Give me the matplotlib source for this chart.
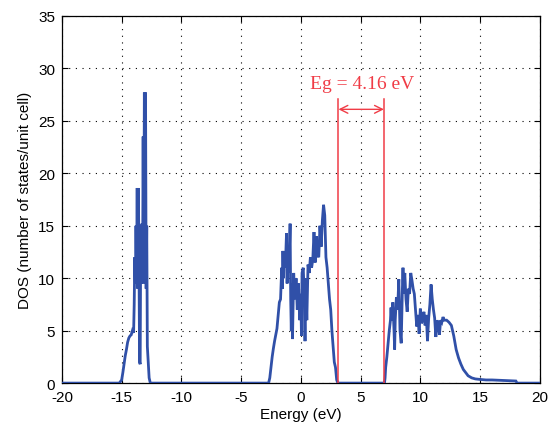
import matplotlib
matplotlib.use('Agg')
import matplotlib.pyplot as plt

# --- density of states (energy in eV, DOS) ---
energy_low = [-20.0, -15.2, -15.0, -14.9, -14.8, -14.7, -14.6, -14.5, -14.4, -14.3,
              -14.2, -14.1, -14.0, -13.95, -13.9, -13.85, -13.8, -13.75, -13.7, -13.65,
              -13.6, -13.55, -13.5, -13.45, -13.4, -13.35, -13.3, -13.25, -13.2, -13.15,
              -13.1, -13.05, -13.0, -12.95, -12.9, -12.85, -12.8, -12.7, -12.6]
dos_low = [0, 0, 0.3, 1.0, 1.8, 2.6, 3.2, 3.9, 4.3, 4.5,
           4.6, 5.0, 4.8, 7.5, 12.0, 9.5, 15.0, 10.5, 18.6, 9.0,
           18.6, 12.0, 2.0, 1.8, 15.0, 9.5, 15.2, 10.0, 23.5, 9.5,
           27.7, 15.0, 27.7, 9.0, 15.0, 3.5, 2.5, 0.5, 0]

energy_val = [-2.7, -2.6, -2.5, -2.4, -2.3, -2.2, -2.1, -2.0, -1.9, -1.8,
              -1.7, -1.6, -1.55, -1.5, -1.45, -1.4, -1.3, -1.2, -1.15, -1.1,
              -1.0, -0.9, -0.85, -0.8, -0.75, -0.7, -0.6, -0.5, -0.4, -0.3,
              -0.2, -0.1, 0.0, 0.05, 0.1, 0.2, 0.3, 0.35, 0.4, 0.5,
              0.6, 0.7, 0.8, 0.9, 1.0, 1.1, 1.2, 1.3, 1.4, 1.5,
              1.6, 1.7, 1.8, 1.9, 2.0, 2.1, 2.2, 2.3, 2.4, 2.5,
              2.6, 2.7, 2.8, 2.9, 3.0, 3.1]
dos_val = [0, 0.5, 1.5, 2.5, 3.3, 4.0, 4.6, 5.2, 6.5, 7.7,
           8.0, 11.0, 9.0, 12.6, 10.0, 12.0, 11.0, 14.3, 9.5, 13.0,
           10.5, 15.2, 8.0, 5.0, 9.5, 4.2, 10.5, 8.0, 10.0, 7.0,
           9.5, 6.0, 8.5, 4.5, 10.5, 11.0, 8.0, 4.0, 10.0, 6.0,
           11.3, 10.5, 12.0, 11.0, 11.8, 14.4, 11.5, 14.0, 12.2, 12.0,
           15.0, 13.0, 15.5, 17.0, 16.0, 12.0, 11.0, 9.5, 8.0, 7.0,
           5.0, 3.5, 2.0, 1.5, 0.3, 0]

energy_cond = [7.0, 7.05, 7.1, 7.2, 7.3, 7.4, 7.5, 7.55, 7.6, 7.7,
               7.8, 7.85, 7.9, 8.0, 8.1, 8.2, 8.3, 8.4, 8.5, 8.55,
               8.6, 8.7, 8.8, 8.9, 9.0, 9.1, 9.2, 9.3, 9.4, 9.5,
               9.6, 9.7, 9.8, 9.9, 10.0, 10.1, 10.2, 10.3, 10.4, 10.5,
               10.6, 10.7, 10.8, 10.9, 11.0, 11.1, 11.2, 11.3, 11.4, 11.5,
               11.6, 11.7, 11.8, 11.9, 12.0, 12.2, 12.4, 12.6, 12.8, 13.0,
               13.2, 13.4, 13.6, 13.8, 14.0, 14.3, 14.6, 15.0, 15.5, 16.0,
               17.0, 18.0, 18.1, 20.0]
dos_cond = [0, 0.5, 1.5, 2.5, 3.8, 5.0, 6.0, 7.2, 6.0, 7.7,
            5.0, 3.2, 6.0, 8.2, 7.0, 9.9, 5.0, 3.8, 9.0, 11.0,
            8.5, 10.5, 8.0, 6.8, 9.0, 8.5, 10.5, 9.8, 9.0, 8.5,
            7.0, 5.4, 6.5, 4.7, 7.1, 5.7, 6.0, 6.8, 5.5, 6.5,
            4.0, 6.2, 7.5, 9.4, 8.0, 7.0, 6.2, 4.4, 6.0, 5.5,
            4.6, 6.0, 5.8, 6.3, 6.0, 6.0, 5.8, 5.5, 4.5, 3.2,
            2.4, 1.8, 1.3, 1.0, 0.7, 0.5, 0.4, 0.35, 0.3, 0.3,
            0.25, 0.2, 0, 0]

# band gap markers
gap_edges = [3.15, 6.95]
gap_label = 'Eg = 4.16 eV'

blue = '#3050a8'
red = '#f03c46'

plt.rcParams['font.family'] = ['Liberation Sans', 'DejaVu Sans']
plt.rcParams['axes.unicode_minus'] = False

fig = plt.figure(figsize=(5.48, 4.35), dpi=100)
ax = fig.add_axes([0.113, 0.117, 0.872, 0.844])

energy = energy_low + energy_val + energy_cond
dos = dos_low + dos_val + dos_cond
ax.plot(energy, dos, color=blue, linewidth=2.0, solid_joinstyle='miter', zorder=3)

# gap lines and arrow
for e in gap_edges:
    ax.plot([e, e], [0, 27.1], color=red, linewidth=1.1, zorder=4)
ax.annotate('', xy=(gap_edges[0], 26.1), xytext=(gap_edges[1], 26.1),
            arrowprops=dict(arrowstyle='<->', color=red, lw=1.0,
                            shrinkA=0, shrinkB=0, mutation_scale=14))
ax.text(sum(gap_edges) / 2 + 0.1, 28.6, gap_label, color=red, ha='center', va='center',
        fontsize=14, family=['Liberation Serif', 'DejaVu Serif'], zorder=5,
        bbox=dict(facecolor='white', edgecolor='none', pad=1.5))

ax.set_xlim(-20, 20)
ax.set_ylim(0, 35)
ax.set_xticks(range(-20, 21, 5))
ax.set_yticks(range(0, 36, 5))
ax.grid(True, color='black', linestyle=(0, (1, 5)), linewidth=0.8)
ax.tick_params(direction='in', length=4, width=0.8, labelsize=11,
               top=True, right=True, pad=5)
for s in ax.spines.values():
    s.set_linewidth(0.9)

ax.set_xlabel('Energy (eV)', fontsize=11, labelpad=2)
ax.set_ylabel('DOS (number of states/unit cell)', fontsize=11, labelpad=4)

fig.savefig('out.png', dpi=100)
